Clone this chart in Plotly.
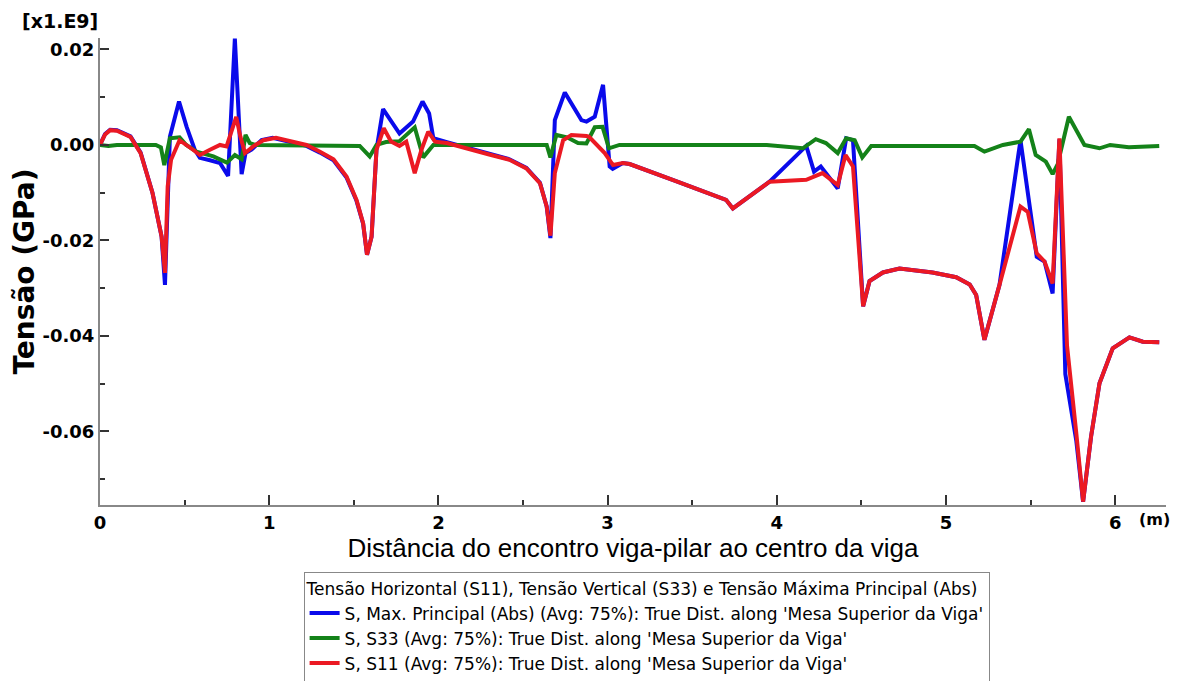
import plotly.graph_objects as go

# ---- data (distance in m, stress in GPa [x1.E9]) ----
x_s11 = [0, 0.03, 0.06, 0.1, 0.18, 0.24, 0.31, 0.364, 0.384, 0.40, 0.42, 0.47, 0.55, 0.59,
         0.65, 0.709, 0.748, 0.805, 0.83, 0.857, 0.906, 0.965, 1.04, 1.14, 1.22, 1.30, 1.38,
         1.457, 1.516, 1.555, 1.578, 1.605, 1.634, 1.677, 1.72, 1.77, 1.81, 1.86, 1.90, 1.94,
         1.98, 2.05, 2.186, 2.30, 2.42, 2.52, 2.60, 2.64, 2.662, 2.688, 2.737, 2.786, 2.875,
         2.89, 2.983, 3.032, 3.09, 3.13, 3.40, 3.70, 3.74, 3.957, 4.174, 4.27, 4.36, 4.406,
         4.45, 4.51, 4.548, 4.627, 4.725, 4.92, 5.06, 5.14, 5.178, 5.227, 5.316, 5.44, 5.483,
         5.536, 5.582, 5.63, 5.67, 5.715, 5.77, 5.81, 5.857, 5.907, 5.985, 6.084, 6.163, 6.26]
s11 = [0, 0.0022, 0.0031, 0.003, 0.0017, -0.0017, -0.010, -0.0192, -0.0268, -0.0087, -0.0031,
       0.001, -0.001, -0.0021, -0.001, 0, -0.0003, 0.0059, 0.0017, -0.0017, -0.0003, 0.001,
       0.0015, 0.0007, 0, -0.0014, -0.003, -0.0066, -0.0115, -0.0164, -0.023, -0.0192, -0.001,
       0.0035, 0.0007, -0.0002, 0.0007, -0.0059, -0.001, 0.0028, 0.0007, 0.0004, -0.001, -0.002,
       -0.0031, -0.0049, -0.008, -0.0129, -0.019, -0.0059, 0.001, 0.0021, 0.0019, 0.0017,
       -0.0017, -0.0042, -0.0038, -0.004, -0.0075, -0.0115, -0.0133, -0.0077, -0.0073, -0.0059,
       -0.0084, -0.0021, -0.0045, -0.0338, -0.0285, -0.0267, -0.0259, -0.0267, -0.0277, -0.0292,
       -0.0314, -0.0408, -0.0293, -0.0129, -0.014, -0.0227, -0.0244, -0.029, 0.0014, -0.042,
       -0.0604, -0.0747, -0.0611, -0.0499, -0.0426, -0.0403, -0.0412, -0.0413]

x_abs = [0, 0.03, 0.06, 0.1, 0.18, 0.24, 0.31, 0.364, 0.384, 0.413, 0.467, 0.512, 0.56, 0.59,
         0.65, 0.71, 0.757, 0.797, 0.837, 0.86, 0.895, 0.955, 1.02, 1.14, 1.22, 1.30, 1.38,
         1.457, 1.516, 1.555, 1.578, 1.605, 1.634, 1.673, 1.77, 1.85, 1.906, 1.945, 1.97, 2.05,
         2.186, 2.30, 2.42, 2.52, 2.60, 2.64, 2.662, 2.688, 2.747, 2.845, 2.875, 2.924, 2.973,
         3.012, 3.03, 3.09, 3.13, 3.40, 3.70, 3.74, 3.957, 4.174, 4.22, 4.26, 4.36, 4.41, 4.45,
         4.51, 4.548, 4.627, 4.725, 4.92, 5.06, 5.14, 5.178, 5.227, 5.316, 5.44, 5.536, 5.582,
         5.63, 5.67, 5.705, 5.77, 5.81, 5.857, 5.907, 5.985, 6.084, 6.163, 6.26]
s_abs = [0, 0.0023, 0.0032, 0.0031, 0.0018, -0.0016, -0.010, -0.0192, -0.0293, 0.0017, 0.0091,
         0.0038, -0.001, -0.0027, -0.0032, -0.0038, -0.0065, 0.0223, -0.0061, -0.0017, -0.001,
         0.001, 0.0015, 0.0006, -0.0002, -0.0016, -0.0032, -0.0068, -0.0117, -0.0165, -0.023,
         -0.0192, -0.001, 0.0075, 0.0024, 0.0049, 0.0091, 0.0066, 0.0014, 0.0006, -0.0008,
         -0.0019, -0.003, -0.0048, -0.0079, -0.0129, -0.0195, 0.0052, 0.011, 0.0052, 0.0049,
         0.0059, 0.0126, -0.0045, -0.005, -0.0038, -0.004, -0.0075, -0.0115, -0.0133, -0.0077,
         -0.0002, -0.0056, -0.0045, -0.0091, 0.0014, 0.001, -0.0338, -0.0285, -0.0267, -0.0259,
         -0.0267, -0.0277, -0.0292, -0.0314, -0.0408, -0.0293, 0.001, -0.0234, -0.0244, -0.0311,
         0.0012, -0.048, -0.062, -0.0747, -0.0611, -0.0499, -0.0426, -0.0403, -0.0412, -0.0413]

x_s33 = [0, 0.05, 0.1, 0.33, 0.36, 0.38, 0.413, 0.47, 0.51, 0.57, 0.67, 0.75, 0.797, 0.837,
         0.86, 0.885, 0.92, 1.535, 1.594, 1.634, 1.69, 1.77, 1.86, 1.91, 1.97, 2.62, 2.64,
         2.662, 2.697, 2.76, 2.825, 2.875, 2.924, 2.97, 3.008, 3.07, 3.94, 4.154, 4.23, 4.29,
         4.36, 4.41, 4.46, 4.505, 4.558, 5.168, 5.227, 5.336, 5.44, 5.49, 5.53, 5.59, 5.63,
         5.66, 5.726, 5.818, 5.907, 5.97, 6.08, 6.26]
s33 = [0, -0.0002, 0, 0, -0.0005, -0.0042, 0.0014, 0.0016, 0.0, -0.0014, -0.0024, -0.0037,
       -0.0021, -0.003, 0.0021, 0.0004, 0, -0.0002, -0.0024, 0, 0.0006, 0.0008, 0.0037, -0.0026,
       0, 0, 0, -0.0026, 0.0021, 0.0016, 0.0004, 0.0003, 0.0037, 0.0038, -0.0007, 0, 0,
       -0.0007, 0.0012, 0.0004, -0.0017, 0.0014, 0.001, -0.0026, -0.0002, -0.0002, -0.0014, 0,
       0.0007, 0.0033, -0.0021, -0.0035, -0.0061, -0.004, 0.0059, 0, -0.0007, 0, -0.0005, -0.0002]

y_tickvals = [-0.06, -0.04, -0.02, 0.0, 0.02]
y_ticktext = ["-0.06", "-0.04", "-0.02", "0.00", "0.02"]
x_tickvals = [0, 1, 2, 3, 4, 5, 6]

names = ["S, Max. Principal (Abs) (Avg: 75%): True Dist. along 'Mesa Superior da Viga'",
         "S, S33 (Avg: 75%): True Dist. along 'Mesa Superior da Viga'",
         "S, S11 (Avg: 75%): True Dist. along 'Mesa Superior da Viga'"]

BOLD = "DejaVu Sans"

fig = go.Figure()
fig.add_trace(go.Scatter(x=x_abs, y=s_abs, mode="lines", name=names[0],
                         line=dict(color="rgb(10,10,235)", width=4)))
fig.add_trace(go.Scatter(x=x_s33, y=s33, mode="lines", name=names[1],
                         line=dict(color="rgb(20,130,25)", width=4)))
fig.add_trace(go.Scatter(x=x_s11, y=s11, mode="lines", name=names[2],
                         line=dict(color="rgb(235,25,35)", width=4)))

# the page body adds an 8px margin, so the figure is 8px smaller and margins shifted
fig.update_layout(
    width=1174, height=673,
    margin=dict(l=92, r=16, t=30, b=176, autoexpand=False),
    paper_bgcolor="white", plot_bgcolor="white",
    showlegend=True,
    legend=dict(
        title=dict(text="Tensão Horizontal (S11), Tensão Vertical (S33) e Tensão Máxima Principal (Abs)",
                   font=dict(family="DejaVu Sans", size=17, color="black")),
        font=dict(family="DejaVu Sans", size=17, color="black"),
        x=0.191, xanchor="left", y=-0.144, yanchor="top",
        bordercolor="#888", borderwidth=1, bgcolor="white",
        itemwidth=30, tracegroupgap=0,
    ),
    xaxis=dict(
        range=[0, 6.3], showgrid=False, zeroline=False, automargin=False,
        showline=True, linecolor="#888", linewidth=2,
        tickvals=x_tickvals, ticks="inside", ticklen=10, tickwidth=2, tickcolor="#333",
        tickfont=dict(family=BOLD, size=18, color="black", weight="bold"),
        minor=dict(dtick=0.5, ticks="inside", ticklen=5, tickwidth=1.5, tickcolor="#333", showgrid=False),
        title=dict(text="Distância do encontro viga-pilar ao centro da viga",
                   font=dict(family="Liberation Sans", size=26, color="black"), standoff=2),
    ),
    yaxis=dict(
        range=[-0.0754, 0.0224], showgrid=False, zeroline=False, automargin=False,
        showline=True, linecolor="#888", linewidth=2,
        tickvals=y_tickvals, ticktext=y_ticktext,
        ticks="inside", ticklen=9, tickwidth=2, tickcolor="#333",
        tickfont=dict(family=BOLD, size=18, color="black", weight="bold"),
        minor=dict(dtick=0.01, ticks="inside", ticklen=5, tickwidth=1.5, tickcolor="#333", showgrid=False),
        title=dict(text="Tensão (GPa)", font=dict(family=BOLD, size=28, color="black", weight="bold"),
                   standoff=8),
    ),
)

fig.add_annotation(text="[x1.E9]", xref="paper", yref="paper", x=-0.0751, y=1.0, yshift=17,
                   xanchor="left", yanchor="middle", showarrow=False,
                   font=dict(family=BOLD, size=19, color="black", weight="bold"))
fig.add_annotation(text="(m)", xref="paper", yref="paper", x=1.0056, y=0, yshift=-14,
                   xanchor="right", yanchor="middle", showarrow=False,
                   font=dict(family=BOLD, size=16, color="black", weight="bold"))

fig.write_html("out.html")
